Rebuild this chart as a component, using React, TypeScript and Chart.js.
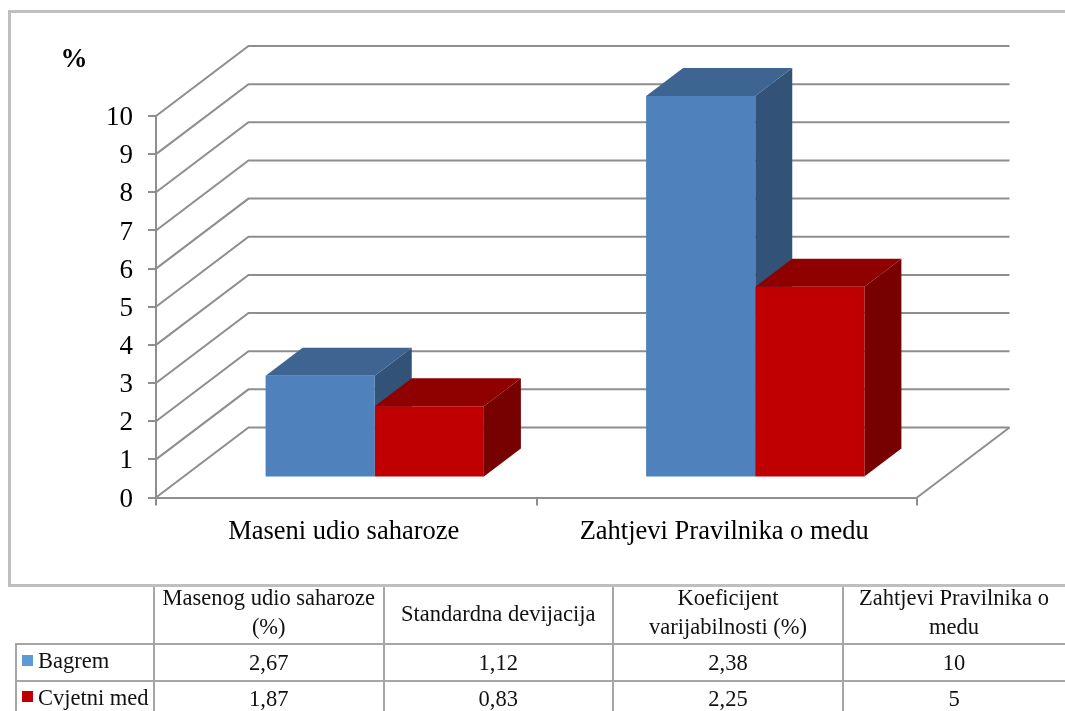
import React, { useEffect, useRef } from "react";
import { Chart, registerables } from "chart.js";

Chart.register(...registerables);

const categories = ["Maseni udio saharoze", "Zahtjevi Pravilnika o medu"];
const bagremValues = [2.67, 10];
const cvjetniValues = [1.87, 5];
const seriesNames = ["Bagrem", "Cvjetni med"];
const yUnit = "%";
const tableHeaders = [
  ["Masenog udio saharoze", "(%)"],
  ["Standardna devijacija"],
  ["Koeficijent", "varijabilnosti (%)"],
  ["Zahtjevi Pravilnika o", "medu"],
];
const bagremRow = ["2,67", "1,12", "2,38", "10"];
const cvjetniRow = ["1,87", "0,83", "2,25", "5"];

const SERIF = '"Liberation Serif", "Times New Roman", serif';
const GRID = "#8e8e8e";
const FRONT = ["#4f81bd", "#c00000"];
const TOP = ["#3e6592", "#8f0000"];
const SIDE = ["#325278", "#770000"];
const SWATCH = ["#5a9bd5", "#c00000"];

const WALL_DX = 92.5;
const WALL_DY = 70;
const BAR_DX = 28.5;
const BAR_DY = 20;
const DEPTH_DX = 37;
const DEPTH_DY = 28;

const box3d = {
  id: "box3d",
  beforeDraw(chart: any) {
    const c = chart.ctx;
    c.save();
    c.fillStyle = "#ffffff";
    c.fillRect(0, 0, chart.width, chart.height);
    c.strokeStyle = "#bfbfbf";
    c.lineWidth = 3;
    c.beginPath();
    c.moveTo(1066, 11.5);
    c.lineTo(9.5, 11.5);
    c.lineTo(9.5, 585.5);
    c.lineTo(1066, 585.5);
    c.stroke();
    c.fillStyle = "#000000";
    c.font = `bold 27px ${SERIF}`;
    c.textAlign = "center";
    c.textBaseline = "middle";
    c.fillText(yUnit, 74, 60);
    c.restore();
  },
  beforeDatasetsDraw(chart: any) {
    const c = chart.ctx;
    const { left, right } = chart.chartArea;
    const y = chart.scales.y;
    c.save();
    c.strokeStyle = GRID;
    c.lineWidth = 2;
    y.ticks.forEach((t: any) => {
      const p = y.getPixelForValue(t.value);
      c.beginPath();
      c.moveTo(left, p);
      c.lineTo(left + WALL_DX, p - WALL_DY);
      c.lineTo(right + WALL_DX, p - WALL_DY);
      c.stroke();
    });
    const p0 = y.getPixelForValue(0);
    c.beginPath();
    c.moveTo(right + WALL_DX, p0 - WALL_DY);
    c.lineTo(right, p0);
    c.stroke();
    c.restore();

    c.save();
    c.translate(BAR_DX, -BAR_DY);
    [0, 1].forEach((ds) => {
      chart.getDatasetMeta(ds).data.forEach((bar: any) => {
        const l = bar.x - bar.width / 2;
        const r = bar.x + bar.width / 2;
        c.fillStyle = SIDE[ds];
        c.beginPath();
        c.moveTo(r, bar.y);
        c.lineTo(r + DEPTH_DX, bar.y - DEPTH_DY);
        c.lineTo(r + DEPTH_DX, bar.base - DEPTH_DY);
        c.lineTo(r, bar.base);
        c.closePath();
        c.fill();
        c.fillStyle = TOP[ds];
        c.beginPath();
        c.moveTo(l, bar.y);
        c.lineTo(l + DEPTH_DX, bar.y - DEPTH_DY);
        c.lineTo(r + DEPTH_DX, bar.y - DEPTH_DY);
        c.lineTo(r, bar.y);
        c.closePath();
        c.fill();
      });
    });
  },
  afterDatasetsDraw(chart: any) {
    chart.ctx.restore();
  },
};

const COLS = [154, 383.5, 613, 843, 1065];
const VLINE: React.CSSProperties = { position: "absolute", width: 2, background: "#a6a6a6" };
const HLINE: React.CSSProperties = { position: "absolute", height: 2, background: "#a6a6a6" };
const TABLE_FONT = `22.5px/29px ${SERIF}`;

function Cell({ col, cy, lines }: { col: number; cy: number; lines: string[] }) {
  return (
    <div
      style={{
        position: "absolute",
        left: COLS[col],
        width: COLS[col + 1] - COLS[col],
        top: cy - lines.length * 14.5,
        textAlign: "center",
        font: TABLE_FONT,
        color: "#111",
        whiteSpace: "nowrap",
      }}
    >
      {lines.map((l) => (
        <div key={l}>{l}</div>
      ))}
    </div>
  );
}

export default function App() {
  const ref = useRef<HTMLCanvasElement>(null);
  useEffect(() => {
    const chart = new Chart(ref.current!, {
      type: "bar",
      data: {
        labels: categories,
        datasets: [
          { label: seriesNames[0], data: bagremValues, backgroundColor: FRONT[0] },
          { label: seriesNames[1], data: cvjetniValues, backgroundColor: FRONT[1] },
        ],
      },
      plugins: [box3d],
      options: {
        animation: false,
        responsive: false,
        layout: { padding: { left: 0, right: 148, top: 116, bottom: 163.5 } },
        plugins: { legend: { display: false }, tooltip: { enabled: false } },
        datasets: { bar: { categoryPercentage: 0.5737, barPercentage: 1 } },
        scales: {
          x: {
            afterFit: (s: any) => { s.height = 50; },
            grid: { drawOnChartArea: false, color: GRID, lineWidth: 2, tickLength: 8, offset: true },
            border: { color: GRID, width: 2 },
            ticks: {
              font: { family: SERIF, size: 26.5 },
              color: "#000",
              maxRotation: 0,
              autoSkip: false,
              padding: 11,
              labelOffset: -2.5,
            },
          },
          y: {
            min: 0,
            max: 10,
            afterFit: (s: any) => { s.width = 156; },
            grid: { drawOnChartArea: false, color: GRID, lineWidth: 2, tickLength: 8 },
            border: { color: GRID, width: 2 },
            ticks: {
              stepSize: 1,
              font: { family: SERIF, size: 27 },
              color: "#000",
              padding: 15,
              labelOffset: 2,
            },
          },
        },
      } as any,
    });
    return () => chart.destroy();
  }, []);

  return (
    <div style={{ position: "absolute", left: 0, top: 0, width: 1065, height: 711, overflow: "hidden", background: "#fff" }}>
      <canvas ref={ref} width={1065} height={711} style={{ position: "absolute", left: 0, top: 0, display: "block" }} />
      {COLS.slice(0, 4).map((x) => (
        <div key={x} style={{ ...VLINE, left: x - 1, top: 587, height: 124 }} />
      ))}
      <div style={{ ...VLINE, left: 15, top: 643, height: 68 }} />
      <div style={{ ...HLINE, left: 15, top: 643, width: 1050 }} />
      <div style={{ ...HLINE, left: 15, top: 680, width: 1050 }} />
      {tableHeaders.map((h, i) => (
        <Cell key={i} col={i} cy={i === 1 ? 613 : 612} lines={h} />
      ))}
      {[bagremRow, cvjetniRow].map((row, r) => (
        <React.Fragment key={r}>
          <div style={{ position: "absolute", left: 22, top: r === 0 ? 655 : 691, width: 11, height: 11, background: SWATCH[r] }} />
          <div style={{ position: "absolute", left: 38, top: r === 0 ? 646 : 683, font: TABLE_FONT, color: "#111", whiteSpace: "nowrap" }}>
            {seriesNames[r]}
          </div>
          {row.map((v, i) => (
            <Cell key={i} col={i} cy={r === 0 ? 662 : 698} lines={[v]} />
          ))}
        </React.Fragment>
      ))}
    </div>
  );
}
